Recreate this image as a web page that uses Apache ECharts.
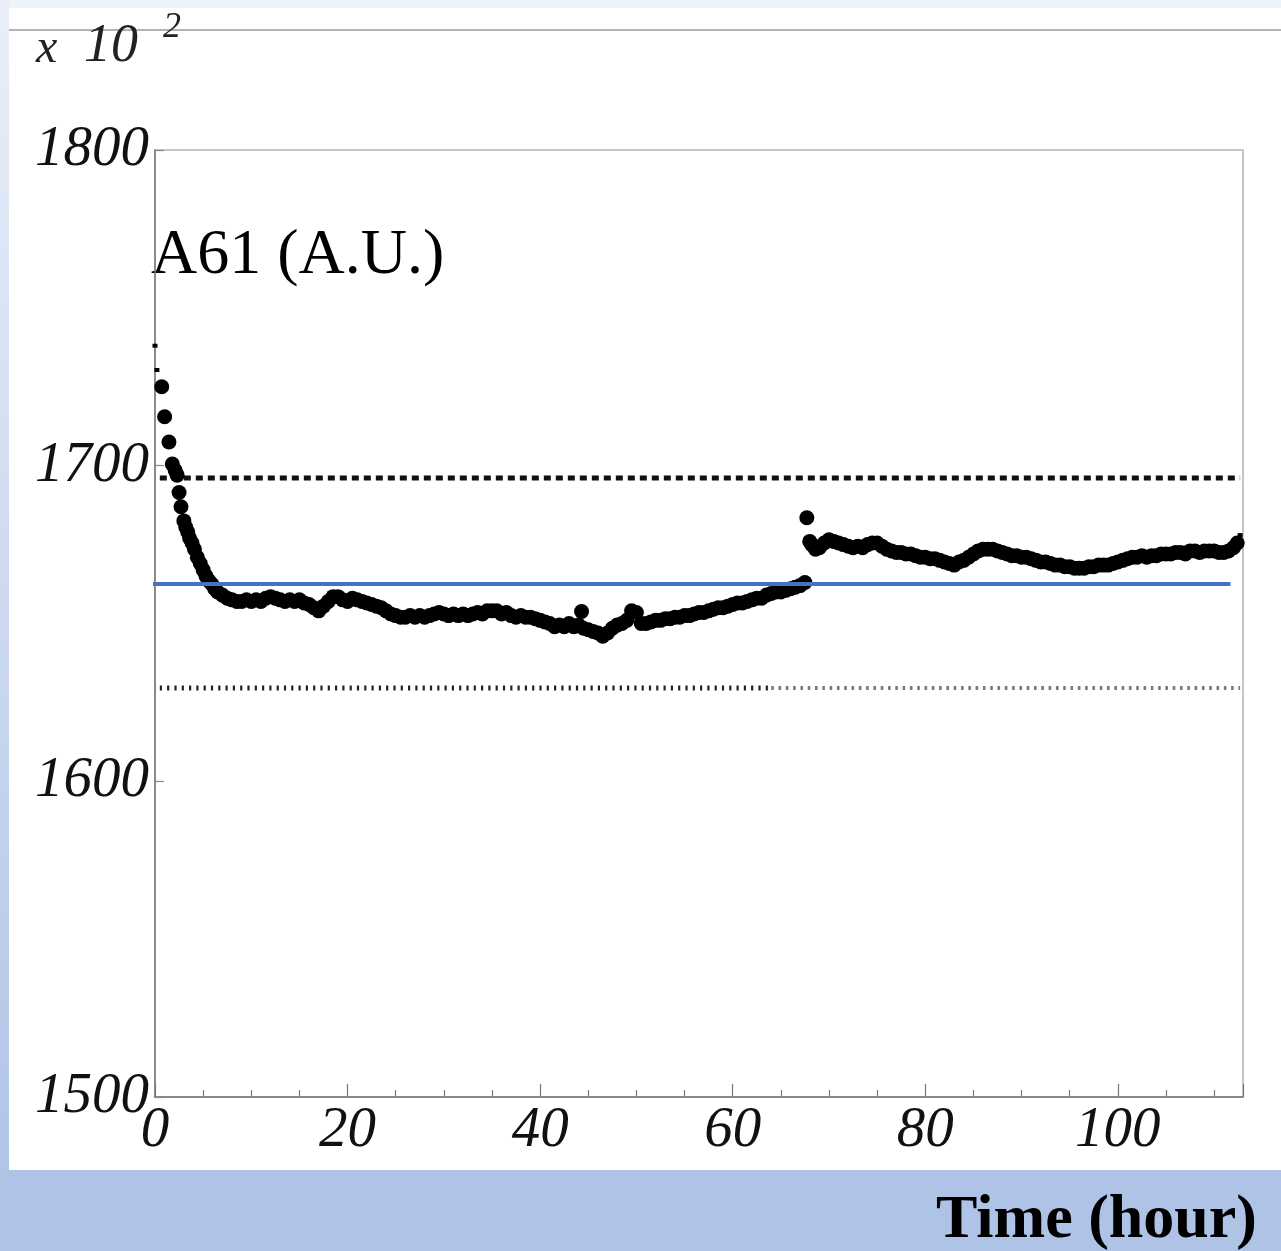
<!DOCTYPE html>
<html>
<head>
<meta charset="utf-8">
<script src="https://cdn.jsdelivr.net/npm/echarts@6.0.0/dist/echarts.min.js"></script>
<style>
  html, body { margin: 0; padding: 0; }
  body { width: 1281px; height: 1251px; position: relative; overflow: hidden; background: #aec3e6; }
  #topband { position: absolute; left: 0; top: 0; width: 1281px; height: 8px; background: #eef2f9; }
  #leftband { position: absolute; left: 0; top: 0; width: 9px; height: 1170px; background: linear-gradient(#e9eff9, #b2c5e7); }
  #panel { position: absolute; left: 9px; top: 8px; width: 1272px; height: 1162px; background: #fff; }
  #chart { position: absolute; left: 0; top: 0; width: 1281px; height: 1251px; }
</style>
</head>
<body>
<div id="topband"></div>
<div id="leftband"></div>
<div id="panel"></div>
<div id="chart"></div>
<script>
// A61 readings (x 10^2 A.U.) against time in hours
const hours = [
  0.7, 1.0, 1.45, 1.8, 2.1, 2.3, 2.5, 2.7, 3.0, 3.2, 3.4, 3.6, 3.85, 4.1, 4.4, 4.7,
  5.0, 5.3, 5.6, 5.9, 6.2, 6.5, 7.0, 7.5, 8.0, 8.5, 9.0, 9.5, 10, 10.5, 11, 11.5,
  12, 12.5, 13, 13.5, 14, 14.5, 15, 15.5, 16, 16.5, 17, 17.5, 18, 18.5, 19, 19.5,
  20, 20.5, 21, 21.5, 22, 22.5, 23, 23.5, 24, 24.5, 25, 25.5, 26, 26.5, 27, 27.5,
  28, 28.5, 29, 29.5, 30, 30.5, 31, 31.5, 32, 32.5, 33, 33.5, 34, 34.5, 35, 35.5,
  36, 36.5, 37, 37.5, 38, 38.5, 39, 39.5, 40, 40.5, 41, 41.5, 42, 42.5, 43, 43.5,
  44, 44.3, 44.5, 45, 45.5, 46, 46.5, 47, 47.5, 48, 48.5, 49, 49.5, 50, 50.5, 51,
  51.5, 52, 52.5, 53, 53.5, 54, 54.5, 55, 55.5, 56, 56.5, 57, 57.5, 58, 58.5, 59,
  59.5, 60, 60.5, 61, 61.5, 62, 62.5, 63, 63.5, 64, 64.5, 65, 65.5, 66, 66.5, 67,
  67.5, 67.7, 68.0, 68.2, 68.6, 69, 69.5, 70, 70.5, 71, 71.5, 72, 72.5, 73, 73.5, 74,
  74.5, 75, 75.5, 76, 76.5, 77, 77.5, 78, 78.5, 79, 79.5, 80, 80.5, 81, 81.5, 82,
  82.5, 83, 83.5, 84, 84.5, 85, 85.5, 86, 86.5, 87, 87.5, 88, 88.5, 89, 89.5, 90,
  90.5, 91, 91.5, 92, 92.5, 93, 93.5, 94, 94.5, 95, 95.5, 96, 96.5, 97, 97.5, 98,
  98.5, 99, 99.5, 100, 100.5, 101, 101.5, 102, 102.5, 103, 103.5, 104, 104.5, 105, 105.5, 106,
  106.5, 107, 107.5, 108, 108.5, 109, 109.5, 110, 110.5, 111, 111.5, 112, 112.4
];
const a61 = [
  1725, 1715.5, 1707.5, 1700.5, 1698.5, 1697, 1691.5, 1687, 1682.5, 1680.5, 1679, 1677, 1675.5, 1673.5, 1671, 1669,
  1667, 1665, 1663.5, 1662.5, 1661, 1660, 1659, 1658, 1657.5, 1657, 1657, 1657.5, 1657, 1657.5, 1657, 1658,
  1658.5, 1658, 1657.5, 1657, 1657.5, 1657, 1657.5, 1656.5, 1656, 1655, 1654, 1655.5, 1657, 1658.5, 1658.5, 1657.5,
  1657, 1658, 1657.5, 1657, 1656.5, 1656, 1655.5, 1655, 1654, 1653, 1652.5, 1652, 1652, 1652.5, 1652, 1652.5,
  1652, 1652.5, 1653, 1653.5, 1653, 1652.5, 1653, 1652.5, 1653, 1652.5, 1653, 1653.5, 1653, 1654, 1654, 1654,
  1653, 1653.5, 1652.5, 1652, 1652.5, 1652, 1652, 1651.5, 1651, 1650.5, 1650, 1649, 1649.5, 1649, 1650, 1649,
  1649.5, 1653.8, 1648.5, 1648, 1647.5, 1647, 1646, 1647, 1648.5, 1649.5, 1650, 1651, 1654, 1653.5, 1650, 1650,
  1650.5, 1651, 1651, 1651.5, 1651.5, 1652, 1652, 1652.5, 1652.5, 1653, 1653.5, 1653.5, 1654, 1654.5, 1655, 1655,
  1655.5, 1656, 1656.5, 1656.5, 1657, 1657.5, 1658, 1658, 1659, 1659.5, 1660, 1660, 1660.5, 1661, 1661.5, 1662,
  1663, 1683.5, 1676, 1675, 1673.5, 1674, 1675.5, 1676.5, 1676, 1675.5, 1675, 1674.5, 1674, 1674.5, 1674, 1675,
  1675.5, 1675.5, 1674.5, 1673.5, 1673, 1672.5, 1672.5, 1672, 1672, 1671.5, 1671, 1671, 1670.5, 1670.5, 1670, 1669.5,
  1669, 1668.5, 1669.5, 1670, 1671, 1672, 1673, 1673.5, 1673.5, 1673.5, 1673, 1672.5, 1672, 1671.5, 1671.5, 1671,
  1671, 1670.5, 1670, 1669.5, 1669.5, 1669, 1668.5, 1668.5, 1668, 1668, 1667.5, 1667.5, 1667.5, 1668, 1668, 1668.5,
  1668.5, 1668.5, 1669, 1669.5, 1670, 1670.5, 1671, 1671, 1671.5, 1671, 1671.5, 1671.5, 1672, 1672, 1672, 1672.5,
  1672.5, 1672, 1673, 1673, 1672.5, 1673, 1673, 1673, 1672.5, 1672.5, 1673, 1674, 1675.5
];
// the few small markers at the very start and end of the run
const edgeHours = [0, 0.2, 112.7];
const edgeA61 = [1738, 1730.3, 1678];

// reference levels
const upperLimit = 1696.1;
const lowerLimit = 1629.6;
const meanLevel = 1662.5;
const limitSpan = [0.5, 112.7];
const lowerSplit = 64;
const meanSpan = [-0.7, 111.7];

const yTicks = [1500, 1600, 1700, 1800];
const xTicks = [0, 20, 40, 60, 80, 100];

const zip = (xs, ys) => xs.map((x, i) => [x, ys[i]]);
const flat = (x0, x1, v) => [[x0, v], [x1, v]];

const chart = echarts.init(document.getElementById('chart'));

const italicNum = {
  fontFamily: '"Liberation Serif", "Times New Roman", serif',
  fontStyle: 'italic',
  fontSize: 57,
  color: '#111'
};

const option = {
  animation: false,
  backgroundColor: 'transparent',
  grid: {
    left: 155, right: 38, top: 150, bottom: 154,
    show: true, borderColor: '#b4b4b4', borderWidth: 1.5, backgroundColor: 'transparent'
  },
  xAxis: {
    type: 'value', min: 0, max: 113, interval: 20,
    axisLine: { lineStyle: { color: '#777', width: 1.5 } },
    axisTick: { inside: true, length: 13, lineStyle: { color: '#777', width: 1.2 } },
    minorTick: { show: true, splitNumber: 4, length: 7, lineStyle: { color: '#777', width: 1.2 } },
    splitLine: { show: false },
    axisLabel: Object.assign({ margin: 6, showMaxLabel: false, formatter: v => xTicks.includes(v) ? String(v) : '' }, italicNum)
  },
  yAxis: {
    type: 'value', min: 1500, max: 1800, interval: 100,
    axisLine: { lineStyle: { color: '#777', width: 1.5 } },
    axisTick: { inside: true, length: 9, lineStyle: { color: '#888', width: 1.2 } },
    splitLine: { show: false },
    axisLabel: Object.assign({ margin: 6, formatter: v => yTicks.includes(v) ? String(v) : '' }, italicNum)
  },
  graphic: [
    { type: 'line', shape: { x1: 9, y1: 30, x2: 1281, y2: 30 }, style: { stroke: '#9a9a9a', lineWidth: 1.5 } },
    { type: 'text', left: 36, top: 25, style: { text: 'x', font: 'italic 48px "Liberation Serif", serif', fill: '#222' } },
    { type: 'text', left: 84, top: 20, style: { text: '10', font: 'italic 54px "Liberation Serif", serif', fill: '#222' } },
    { type: 'text', left: 163, top: 10, style: { text: '2', font: 'italic 36px "Liberation Serif", serif', fill: '#222' } },
    { type: 'text', left: 151, top: 224, style: { text: 'A61 (A.U.)', font: '64px "Liberation Serif", serif', fill: '#000' } },
    { type: 'text', right: 24, top: 1190, style: { text: 'Time (hour)', font: 'bold 62px "Liberation Serif", serif', fill: '#000' } }
  ],
  series: [
    {
      name: 'upper', type: 'line', data: flat(limitSpan[0], limitSpan[1], upperLimit),
      symbol: 'none', silent: true, z: 1,
      lineStyle: { color: '#111', width: 5, type: [7, 5], cap: 'butt' }
    },
    {
      name: 'lower-a', type: 'line', data: flat(limitSpan[0], lowerSplit, lowerLimit),
      symbol: 'none', silent: true, z: 1,
      lineStyle: { color: '#222', width: 5, type: [2.2, 5.1], cap: 'butt' }
    },
    {
      name: 'lower-b', type: 'line', data: flat(lowerSplit, limitSpan[1], lowerLimit),
      symbol: 'none', silent: true, z: 1,
      lineStyle: { color: '#7a7a7a', width: 4, type: [2.6, 4.7], cap: 'butt' }
    },
    {
      name: 'A61', type: 'scatter', data: zip(hours, a61),
      symbol: 'circle', symbolSize: 15, itemStyle: { color: '#000', opacity: 1 }, z: 3
    },
    {
      name: 'A61-edge', type: 'scatter', data: zip(edgeHours, edgeA61),
      symbol: 'rect', symbolSize: [5, 4], itemStyle: { color: '#000', opacity: 1 }, z: 3
    },
    {
      name: 'mean', type: 'line', data: flat(meanSpan[0], meanSpan[1], meanLevel),
      symbol: 'none', silent: true, clip: false, z: 4,
      lineStyle: { color: '#4472c4', width: 4 }
    }
  ]
};

chart.setOption(option);
window.addEventListener('resize', () => chart.resize());
</script>
</body>
</html>
